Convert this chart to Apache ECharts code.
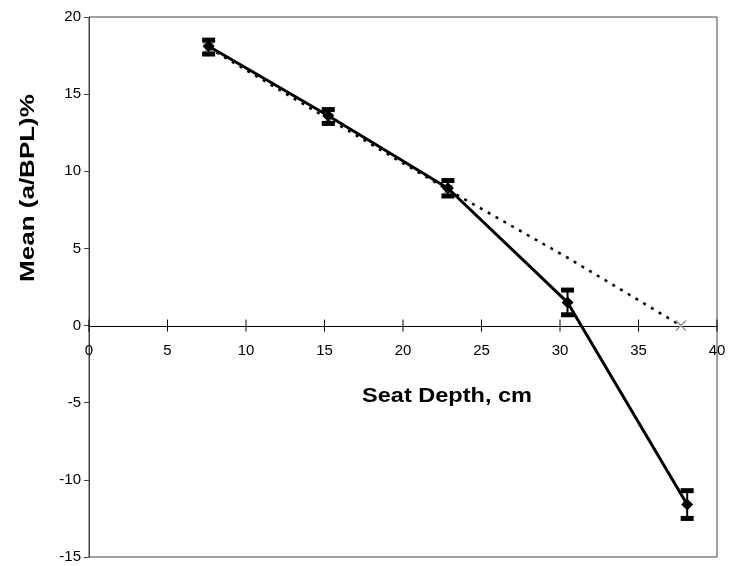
<!DOCTYPE html>
<html><head><meta charset="utf-8">
<script src="https://cdn.jsdelivr.net/npm/echarts@6/dist/echarts.min.js"></script>
<style>html,body{margin:0;padding:0;background:#fff}#c{width:729px;height:566px}</style>
</head><body><div id="c"></div>
<script>
const depth = [7.62, 15.24, 22.86, 30.48, 38.1];
const meanVals = [18.1, 13.6, 8.9, 1.5, -11.6];
const errLow = [17.6, 13.1, 8.4, 0.7, -12.5];
const errHigh = [18.5, 14.0, 9.4, 2.3, -10.7];
const fitX = [7.62, 15.24, 22.86, 30.48, 37.7];
const fitVals = [18.0, 13.4, 8.8, 4.4, 0];
const fitMarker = [true, true, true, false, true];
const xTicks = [0, 5, 10, 15, 20, 25, 30, 35, 40];
const yTicks = [-15, -10, -5, 0, 5, 10, 15, 20];
const xTitle = 'Seat Depth, cm';
const yTitle = 'Mean (a/BPL)%';

const font = 'Liberation Sans, Arial, sans-serif';
const chart = echarts.init(document.getElementById('c'));
const xShape = 'path://M0,1 L1,0 L10,9 L9,10 Z M9,0 L10,1 L1,10 L0,9 Z';

chart.setOption({
  animation: false,
  grid: {left: 89, right: 12, top: 17, bottom: 9, show: true, borderColor: '#444', borderWidth: 1,
         outerBoundsMode: 'none', containLabel: false},
  xAxis: {
    type: 'value', min: xTicks[0], max: xTicks[xTicks.length-1], interval: 5,
    position: 'bottom', offset: -231,
    axisLine: {onZero: false, lineStyle: {color: '#000', width: 1}},
    axisTick: {show: false},
    axisLabel: {color: '#000', fontSize: 15, fontFamily: font, margin: 17},
    splitLine: {show: false}
  },
  yAxis: {
    type: 'value', min: yTicks[0], max: yTicks[yTicks.length-1], interval: 5,
    axisLine: {show: true, onZero: false, lineStyle: {color: '#444', width: 1}},
    axisTick: {show: true, length: 5, lineStyle: {color: '#444'}},
    axisLabel: {color: '#000', fontSize: 15, fontFamily: font, margin: 8},
    splitLine: {show: false}
  },
  graphic: [
    {type: 'text', x: 447, y: 396, scaleX: 1.12,
     style: {text: xTitle, font: 'bold 21px ' + font, fill: '#000', align: 'center', verticalAlign: 'middle'}},
    {type: 'text', x: 28, y: 188, rotation: Math.PI / 2, scaleX: 1.3,
     style: {text: yTitle, font: 'bold 20px ' + font, fill: '#000', align: 'center', verticalAlign: 'middle'}}
  ],
  series: [
    {
      type: 'custom', z: 1, silent: true,
      data: xTicks.map(t => [t, 0]),
      renderItem: function (params, api) {
        const p = api.coord([api.value(0), api.value(1)]);
        return {type: 'line', shape: {x1: p[0], y1: p[1] - 6, x2: p[0], y2: p[1] + 6}, style: {stroke: '#000', lineWidth: 1}};
      }
    },
    {
      type: 'line',
      data: fitX.map((x, i) => ({value: [x, fitVals[i]], symbol: fitMarker[i] ? xShape : 'none'})),
      symbol: xShape, symbolSize: 11, itemStyle: {color: '#999'},
      lineStyle: {color: '#000', width: 2.5, type: [3, 6]}, z: 2
    },
    {
      type: 'line', data: depth.map((x, i) => [x, meanVals[i]]),
      symbol: 'diamond', symbolSize: 12, itemStyle: {color: '#000'},
      lineStyle: {color: '#000', width: 3}, z: 3
    },
    {
      type: 'custom', z: 4,
      data: depth.map((x, i) => [x, errLow[i], errHigh[i]]),
      renderItem: function (params, api) {
        const lo = api.coord([api.value(0), api.value(1)]);
        const hi = api.coord([api.value(0), api.value(2)]);
        const w = 13, h = 5;
        return {type: 'group', children: [
          {type: 'line', shape: {x1: lo[0], y1: lo[1], x2: hi[0], y2: hi[1]}, style: {stroke: '#000', lineWidth: 2}},
          {type: 'rect', shape: {x: hi[0] - w/2, y: hi[1] - h/2, width: w, height: h}, style: {fill: '#000'}},
          {type: 'rect', shape: {x: lo[0] - w/2, y: lo[1] - h/2, width: w, height: h}, style: {fill: '#000'}}
        ]};
      }
    }
  ]
});
</script></body></html>
